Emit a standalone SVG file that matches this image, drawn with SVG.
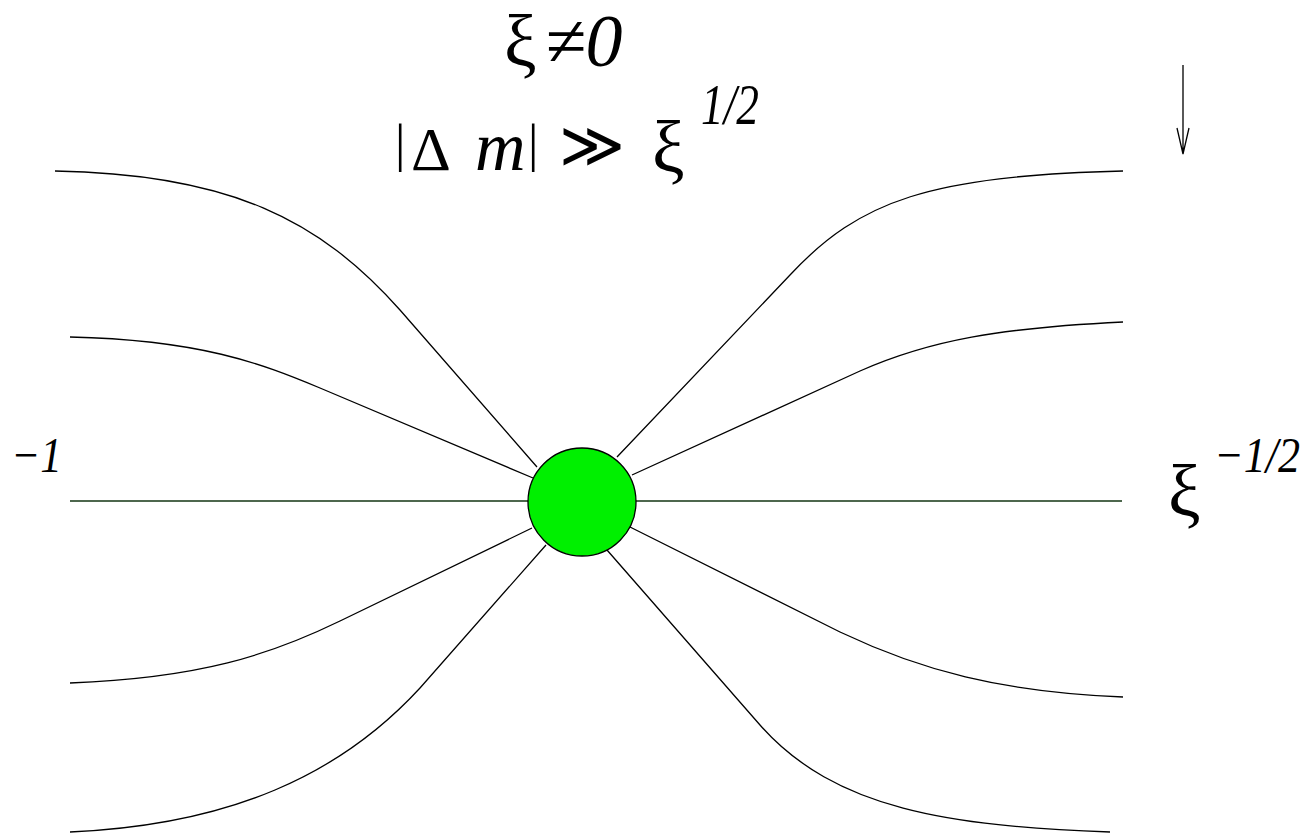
<svg xmlns="http://www.w3.org/2000/svg" width="1310" height="833" viewBox="0 0 1310 833">
<style>
.c{fill:none;stroke:#000;stroke-width:1.3}
.h{fill:none;stroke:#123512;stroke-width:1.4}
.t{font-family:"Liberation Serif","Times New Roman",serif;fill:#000}
.i{font-style:italic}
</style>
<rect width="1310" height="833" fill="#fff"/>
<g id="connectors">
<path class="c" d="M55,171 C230,174 320,220 400,310 L537,467"/>
<path class="c" d="M70,337 C200,340 260,363 320,388 L533,478"/>
<path class="h" d="M70,501 L528,501"/>
<path class="c" d="M70,683 C200,678 270,655 340,621 L532,528"/>
<path class="c" d="M70,832 C230,825 340,775 420,688 L546,545"/>
<path class="c" d="M1123,171 C930,176 860,200 790,275 L617,457"/>
<path class="c" d="M1123,322 C1000,328 930,340 860,371 L632,475"/>
<path class="h" d="M636,501 L1122,501"/>
<path class="c" d="M1123,697 C1000,692 920,670 840,632 L630,527"/>
<path class="c" d="M1110,832 C950,826 835,810 760,725 L607,550"/>
<path class="c" d="M1183,65 L1183,154 M1177,128 L1183,154 L1189,128"/>
</g>
<g id="node">
<circle cx="582" cy="502" r="54" fill="#00f000" stroke="#000" stroke-width="1.3"/>
</g>
<g id="labels">
<text class="t" x="504" y="66" font-size="73">ξ</text>
<text class="t i" x="545" y="66" font-size="74">≠0</text>
<text class="t" x="395" y="161" font-size="52">|</text>
<text class="t" x="411" y="170" font-size="62">Δ</text>
<text class="t i" x="475" y="170" font-size="70">m</text>
<text class="t" x="528" y="161" font-size="52">|</text>
<text class="t" x="559" y="167" font-size="64" textLength="66" lengthAdjust="spacingAndGlyphs">≫</text>
<text class="t" x="652" y="172" font-size="73">ξ</text>
<text class="t i" x="701" y="124" font-size="58" textLength="58" lengthAdjust="spacingAndGlyphs">1/2</text>
<text class="t i" x="11" y="472" font-size="50" textLength="51" lengthAdjust="spacingAndGlyphs">−1</text>
<text class="t" x="1168" y="516" font-size="73">ξ</text>
<text class="t i" x="1214" y="472" font-size="50" textLength="86" lengthAdjust="spacingAndGlyphs">−1/2</text>
</g>
</svg>
